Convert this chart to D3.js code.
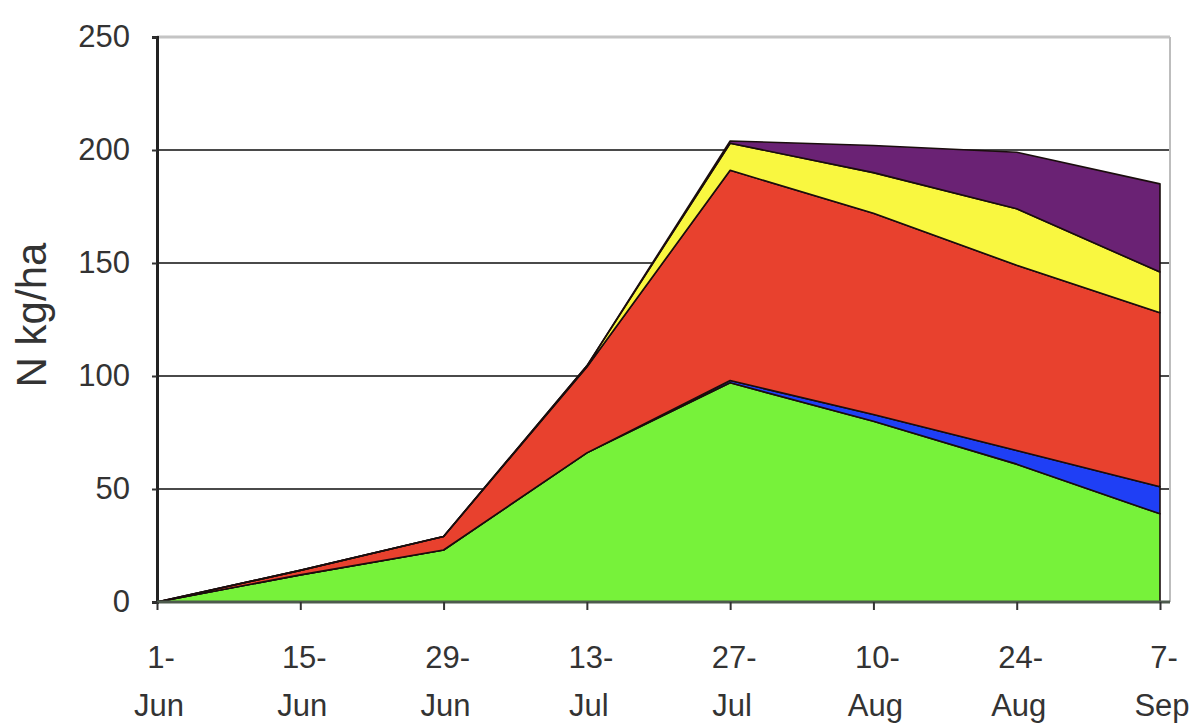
<!DOCTYPE html>
<html>
<head>
<meta charset="utf-8">
<script src="https://cdn.jsdelivr.net/npm/d3@7"></script>
<style>
  html, body { margin: 0; padding: 0; background: #fff; }
  svg { display: block; }
  text { font-family: "Liberation Sans", Arial, sans-serif; fill: #333; }
</style>
</head>
<body>
<svg id="chart" width="1200" height="724"></svg>
<script>
// Sampling dates (two-line labels: day / month)
const categories = ["1-Jun", "15-Jun", "29-Jun", "13-Jul", "27-Jul", "10-Aug", "24-Aug", "7-Sep"];

// Nitrogen uptake per plant part, N kg/ha (stacked bottom to top)
const greenN  = [0, 12, 23, 66, 97, 80, 61, 39];
const blueN   = [0, 0, 0, 0, 1, 3, 6, 12];
const redN    = [0, 2, 6, 38, 93, 89, 82, 77];
const yellowN = [0, 0, 0, 0.5, 12, 18, 25, 18];
const purpleN = [0, 0, 0, 0, 1, 12, 25, 39];

const yTicks = [0, 50, 100, 150, 200, 250];
const yLabel = "N kg/ha";

const seriesKeys = ["green", "blue", "red", "yellow", "purple"];
const seriesValues = { green: greenN, blue: blueN, red: redN, yellow: yellowN, purple: purpleN };
const seriesColors = { green: "#77f23a", blue: "#1f3ff5", red: "#e8412e", yellow: "#f9f740", purple: "#6a2274" };

const rows = categories.map((c, i) => {
  const r = { date: c };
  seriesKeys.forEach(k => r[k] = seriesValues[k][i]);
  return r;
});

const svg = d3.select("#chart");
const plot = { left: 157, right: 1170, top: 37, bottom: 602 };

const x = d3.scalePoint().domain(categories).range([157, 1160]).padding(0);
const y = d3.scaleLinear().domain([0, 250]).range([plot.bottom, plot.top]);

// Horizontal gridlines
svg.append("g")
  .selectAll("line")
  .data(yTicks.filter(v => v > 0))
  .join("line")
  .attr("x1", plot.left).attr("x2", plot.right)
  .attr("y1", d => y(d)).attr("y2", d => y(d))
  .attr("stroke", d => d === 250 ? "#c4c4c4" : "#4a4a4a")
  .attr("stroke-width", d => d === 250 ? 3 : 2);

// Right border of the plot area
svg.append("line")
  .attr("x1", plot.right).attr("x2", plot.right)
  .attr("y1", plot.top).attr("y2", plot.bottom)
  .attr("stroke", "#bdbdbd").attr("stroke-width", 2);

// Stacked areas
const stack = d3.stack().keys(seriesKeys);
const layers = stack(rows);

const area = d3.area()
  .x(d => x(d.data.date))
  .y0(d => y(d[0]))
  .y1(d => y(d[1]));

svg.append("g")
  .selectAll("path")
  .data(layers)
  .join("path")
  .attr("d", area)
  .attr("fill", d => seriesColors[d.key])
  .attr("stroke", "#1a0d0d")
  .attr("stroke-width", 1.6)
  .attr("stroke-linejoin", "round");

// Y axis
const yAxis = svg.append("g")
  .attr("transform", `translate(${plot.left},0)`)
  .call(d3.axisLeft(y).tickValues(yTicks).tickSize(5).tickPadding(22).tickFormat(d3.format("d")));
yAxis.select(".domain").attr("stroke", "#222").attr("stroke-width", 3);
yAxis.selectAll(".tick line").attr("stroke", "#333").attr("stroke-width", 2);
yAxis.selectAll(".tick text")
  .style("font-size", "31px")
  .attr("fill", "#444")
  .attr("font-family", "'Liberation Sans', Arial, sans-serif");

// X axis with two-line labels
const xAxis = svg.append("g")
  .attr("transform", `translate(0,${plot.bottom})`)
  .call(d3.axisBottom(x).tickSize(8).tickSizeOuter(0).tickFormat(""));
xAxis.select(".domain").attr("stroke", "#4d5a4d").attr("stroke-width", 3)
  .attr("d", `M${plot.left},0H${plot.right}`);
xAxis.selectAll(".tick line").attr("stroke", "#333").attr("stroke-width", 2);

const xLabels = svg.append("g");
categories.forEach(c => {
  const [day, mon] = c.split("-");
  const t = xLabels.append("text")
    .attr("text-anchor", "middle")
    .attr("fill", "#444")
    .style("font-size", "31px");
  t.append("tspan").attr("x", x(c) + 4).attr("y", 668).text(day + "-");
  t.append("tspan").attr("x", x(c) + 2).attr("y", 716).text(mon);
});

// Y axis title
svg.append("text")
  .attr("transform", "translate(46,315) rotate(-90)")
  .attr("text-anchor", "middle")
  .attr("fill", "#555")
  .style("font-size", "42px")
  .text(yLabel);
</script>
</body>
</html>
